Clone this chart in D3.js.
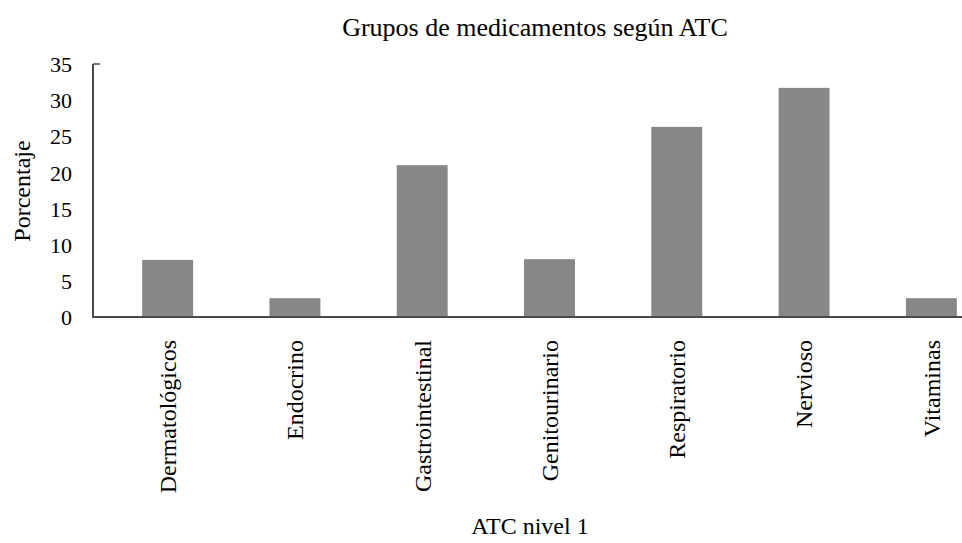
<!DOCTYPE html>
<html>
<head>
<meta charset="utf-8">
<script src="https://cdn.jsdelivr.net/npm/d3@7"></script>
<style>
  body { margin: 0; background: #fff; }
  text { font-family: "Liberation Serif", "DejaVu Serif", serif; fill: #000; }
</style>
</head>
<body>
<div id="chart"></div>
<script>
// data
var categories = ["Dermatológicos", "Endocrino", "Gastrointestinal", "Genitourinario", "Respiratorio", "Nervioso", "Vitaminas"];
var values = [7.9, 2.6, 21.0, 8.0, 26.3, 31.7, 2.6];
var yTicks = [0, 5, 10, 15, 20, 25, 30, 35];

var width = 962, height = 543;
var axisLeft = 93, axisRight = 962, plotTop = 64, plotBottom = 317;

var svg = d3.select("#chart")
    .append("svg")
    .attr("width", width)
    .attr("height", height);

// x scale (plot area runs past the right edge, as in the original)
var x = d3.scaleBand()
    .domain(categories)
    .range([104, 995])
    .paddingInner(0.6)
    .paddingOuter(0.3);

var y = d3.scaleLinear()
    .domain([0, 35])
    .range([plotBottom, plotTop]);

// bars
svg.selectAll(".bar")
    .data(categories)
    .enter()
    .append("rect")
    .attr("class", "bar")
    .attr("x", function(d) { return x(d); })
    .attr("width", x.bandwidth())
    .attr("y", function(d, i) { return y(values[i]); })
    .attr("height", function(d, i) { return y(0) - y(values[i]); })
    .attr("fill", "#878787");

// y axis
var yAxis = d3.axisLeft(y).tickValues(yTicks).tickSize(0).tickPadding(21);
var gy = svg.append("g")
    .attr("transform", "translate(" + axisLeft + ",0)")
    .call(yAxis);
gy.select(".domain").remove();
gy.selectAll("text")
    .style("font-size", "22px")
    .attr("dy", "0.35em");

svg.append("line")
    .attr("x1", axisLeft).attr("x2", axisLeft)
    .attr("y1", y(35)).attr("y2", y(0))
    .attr("stroke", "#4a4a4a").attr("stroke-width", 2);
svg.append("line")
    .attr("x1", axisLeft).attr("x2", axisLeft + 7)
    .attr("y1", y(35)).attr("y2", y(35))
    .attr("stroke", "#4a4a4a").attr("stroke-width", 1.5);

// x axis
var xAxis = d3.axisBottom(x).tickSize(0).tickPadding(0);
var gx = svg.append("g")
    .attr("transform", "translate(0," + plotBottom + ")")
    .call(xAxis);
gx.select(".domain").remove();
gx.selectAll("text")
    .style("font-size", "24px")
    .attr("text-anchor", "end")
    .attr("transform", "rotate(-90)")
    .attr("x", -23)
    .attr("y", 0)
    .attr("dy", "0.35em");

svg.append("line")
    .attr("x1", axisLeft - 1).attr("x2", axisRight)
    .attr("y1", y(0)).attr("y2", y(0))
    .attr("stroke", "#4a4a4a").attr("stroke-width", 2);

// titles
svg.append("text")
    .attr("x", 535)
    .attr("y", 36)
    .attr("text-anchor", "middle")
    .style("font-size", "26px")
    .text("Grupos de medicamentos según ATC");

svg.append("text")
    .attr("x", 530)
    .attr("y", 534)
    .attr("text-anchor", "middle")
    .style("font-size", "24px")
    .text("ATC nivel 1");

svg.append("text")
    .attr("transform", "translate(30,191) rotate(-90)")
    .attr("text-anchor", "middle")
    .style("font-size", "24px")
    .text("Porcentaje");
</script>
</body>
</html>
